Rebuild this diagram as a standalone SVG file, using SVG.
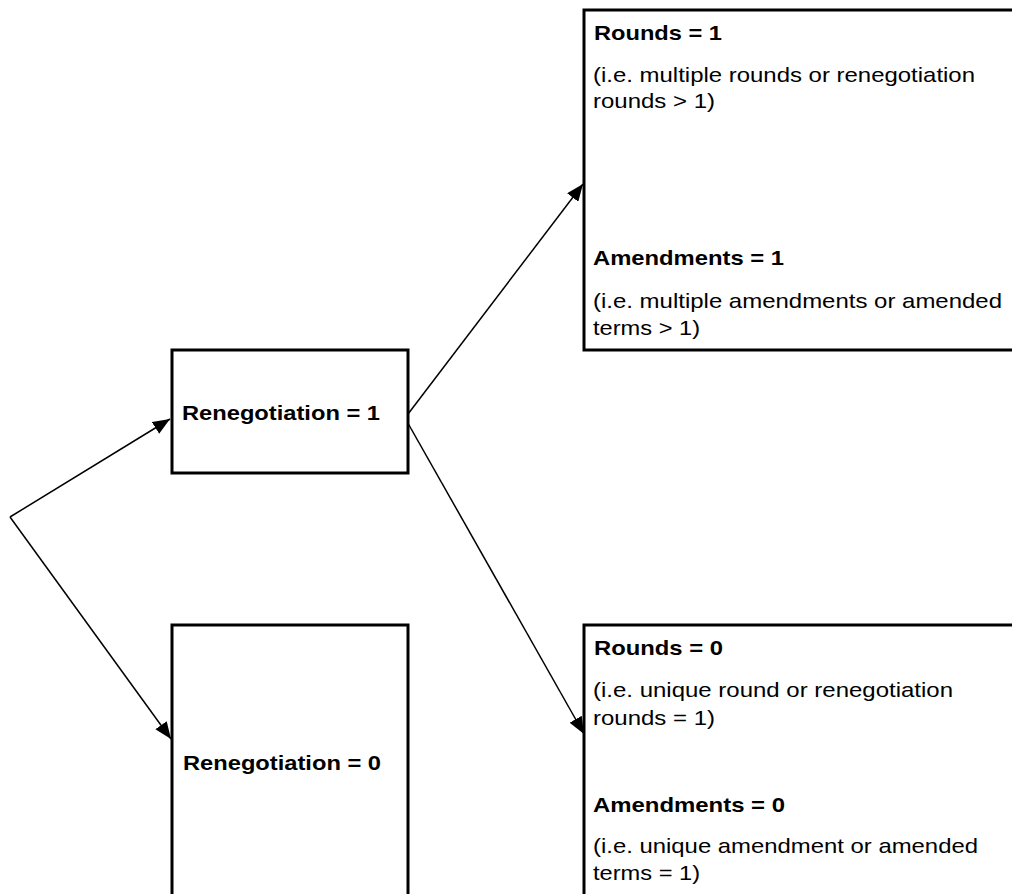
<svg xmlns="http://www.w3.org/2000/svg" width="1012" height="894" viewBox="0 0 1012 894">
<style>
.box{fill:#fff;stroke:#000;stroke-width:3}
.con{fill:none;stroke:#000;stroke-width:1.5}
.b{font-family:"Liberation Sans",Arial,sans-serif;font-weight:bold;font-size:21px;fill:#000}
.r{font-family:"Liberation Sans",Arial,sans-serif;font-size:21px;fill:#000}
</style>
<defs>
<marker id="arr" markerUnits="userSpaceOnUse" markerWidth="18" markerHeight="14" viewBox="0 0 18 14" refX="17" refY="7" orient="auto">
<path d="M0,0 L17,7 L0,14 Z" fill="#000"/>
</marker>
</defs>
<rect width="1012" height="894" fill="#fff"/>
<g id="connectors">
<path class="con" d="M10,517 L170,419" marker-end="url(#arr)"/>
<path class="con" d="M10,517 L171,739" marker-end="url(#arr)"/>
<path class="con" d="M405,418 L583,184" marker-end="url(#arr)"/>
<path class="con" d="M405,418 L584,734" marker-end="url(#arr)"/>
</g>
<g id="reneg1">
<rect class="box" x="172" y="350" width="236" height="123"/>
<text class="b" x="182" y="420" textLength="198" lengthAdjust="spacingAndGlyphs">Renegotiation = 1</text>
</g>
<g id="reneg0">
<rect class="box" x="172" y="625" width="236" height="300"/>
<text class="b" x="183" y="770" textLength="198" lengthAdjust="spacingAndGlyphs">Renegotiation = 0</text>
</g>
<g id="outcome1">
<rect class="box" x="584" y="10" width="460" height="340"/>
<text class="b" x="594" y="40" textLength="128" lengthAdjust="spacingAndGlyphs">Rounds = 1</text>
<text class="r" x="593" y="82" textLength="382" lengthAdjust="spacingAndGlyphs">(i.e. multiple rounds or renegotiation</text>
<text class="r" x="593" y="108" textLength="122" lengthAdjust="spacingAndGlyphs">rounds &gt; 1)</text>
<text class="b" x="593" y="265" textLength="191" lengthAdjust="spacingAndGlyphs">Amendments = 1</text>
<text class="r" x="593" y="308" textLength="409" lengthAdjust="spacingAndGlyphs">(i.e. multiple amendments or amended</text>
<text class="r" x="593" y="335" textLength="107" lengthAdjust="spacingAndGlyphs">terms &gt; 1)</text>
</g>
<g id="outcome0">
<rect class="box" x="584" y="625" width="460" height="300"/>
<text class="b" x="594" y="655" textLength="129" lengthAdjust="spacingAndGlyphs">Rounds = 0</text>
<text class="r" x="593" y="697" textLength="360" lengthAdjust="spacingAndGlyphs">(i.e. unique round or renegotiation</text>
<text class="r" x="593" y="725" textLength="122" lengthAdjust="spacingAndGlyphs">rounds = 1)</text>
<text class="b" x="593" y="812" textLength="192" lengthAdjust="spacingAndGlyphs">Amendments = 0</text>
<text class="r" x="593" y="853" textLength="385" lengthAdjust="spacingAndGlyphs">(i.e. unique amendment or amended</text>
<text class="r" x="593" y="880" textLength="107" lengthAdjust="spacingAndGlyphs">terms = 1)</text>
</g>
</svg>
